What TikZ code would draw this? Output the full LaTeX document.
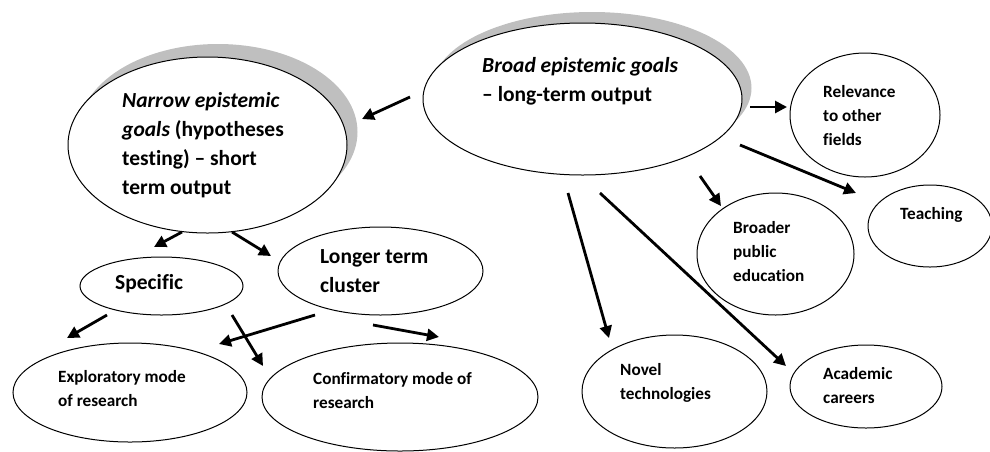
\documentclass[tikz,border=0pt]{standalone}
\usepackage{fontspec}
\setmainfont[Ligatures={TeX,NoCommon}]{Carlito}
\usetikzlibrary{shapes.geometric,arrows.meta}

\begin{document}
\begin{tikzpicture}[x=1pt,y=-1pt,
  bubble/.style={ellipse,draw=black,line width=1pt,fill=white,inner sep=0pt},
  halo/.style={ellipse,fill=black!25,draw=none,inner sep=0pt},
  bigtxt/.style={anchor=north west,align=left,inner sep=0pt,font=\bfseries\fontsize{21.5}{29}\selectfont},
  smalltxt/.style={anchor=north west,align=left,inner sep=0pt,font=\bfseries\fontsize{17.2}{24}\selectfont},
  link/.style={line width=2.8pt,-{Triangle[length=12pt,width=12pt]}}]
\useasboundingbox (0,0) rectangle (990,451);

% grey shadows behind the two goal ellipses
\node[halo,minimum width=279pt,minimum height=176pt] (narrowsh) at (218,132) {};
\node[halo,minimum width=319pt,minimum height=152pt] (broadsh) at (592,88) {};

% ellipses
\node[bubble,minimum width=279pt,minimum height=176pt] (narrow) at (207.5,145) {};
\node[bubble,minimum width=319pt,minimum height=152pt] (broad) at (582.5,99) {};
\node[bubble,minimum width=150pt,minimum height=124pt] (relev) at (865,115) {};
\node[bubble,minimum width=124pt,minimum height=82pt] (teach) at (930,226) {};
\node[bubble,minimum width=157pt,minimum height=122pt] (public) at (775.5,254) {};
\node[bubble,minimum width=185pt,minimum height=113pt] (novel) at (674.5,391.5) {};
\node[bubble,minimum width=152pt,minimum height=83pt] (acad) at (866,386.5) {};
\node[bubble,minimum width=163pt,minimum height=58pt] (spec) at (161.5,286) {};
\node[bubble,minimum width=205pt,minimum height=88pt] (longer) at (380.5,271) {};
\node[bubble,minimum width=234pt,minimum height=99pt] (explo) at (130,392.5) {};
\node[bubble,minimum width=276pt,minimum height=108pt] (confi) at (400,397) {};

% texts
\node[bigtxt] (narrowt) at (122,92) {\textit{Narrow epistemic}\\\textit{goals} (hypotheses\\testing) – short\\term output};
\node[bigtxt] (broadt) at (482,57) {\textit{Broad epistemic goals}\\– long-term output};
\node[smalltxt] (relevt) at (823,85) {Relevance\\to other\\fields};
\node[smalltxt] (teacht) at (900,207) {Teaching};
\node[smalltxt] (publict) at (733,221) {Broader\\public\\education};
\node[smalltxt] (novelt) at (620,363) {Novel\\technologies};
\node[smalltxt] (acadt) at (823,367) {Academic\\careers};
\node[bigtxt] (spect) at (115,274) {Specific};
\node[bigtxt] (longert) at (320,249) {Longer term\\cluster};
\node[smalltxt] (explot) at (58,370) {Exploratory mode\\of research};
\node[smalltxt] (confit) at (313,372) {Confirmatory mode of\\research};

% arrow end points between the ellipses
\coordinate (a1s) at (410,97);  \coordinate (a1e) at (362,119);
\coordinate (a2s) at (750,107); \coordinate (a2e) at (787,107);
\coordinate (a3s) at (740,145); \coordinate (a3e) at (856,193);
\coordinate (a4s) at (700,176); \coordinate (a4e) at (721,206);
\coordinate (a5s) at (568,193); \coordinate (a5e) at (609,338);
\coordinate (a6s) at (600,193); \coordinate (a6e) at (786,366);
\coordinate (a7s) at (182,232); \coordinate (a7e) at (154,247);
\coordinate (a8s) at (232,232); \coordinate (a8e) at (271,256);
\coordinate (a9s) at (107,315); \coordinate (a9e) at (67,338);
\coordinate (a10s) at (232,315); \coordinate (a10e) at (263,366);
\coordinate (a11s) at (315,315); \coordinate (a11e) at (219,344);
\coordinate (a12s) at (373,325); \coordinate (a12e) at (439,337);

\draw[link] (a1s) -- (a1e);
\draw[link] (a2s) -- (a2e);
\draw[link] (a3s) -- (a3e);
\draw[link] (a4s) -- (a4e);
\draw[link] (a5s) -- (a5e);
\draw[link] (a6s) -- (a6e);
\draw[link] (a7s) -- (a7e);
\draw[link] (a8s) -- (a8e);
\draw[link] (a9s) -- (a9e);
\draw[link] (a10s) -- (a10e);
\draw[link] (a11s) -- (a11e);
\draw[link] (a12s) -- (a12e);
\end{tikzpicture}
\end{document}
